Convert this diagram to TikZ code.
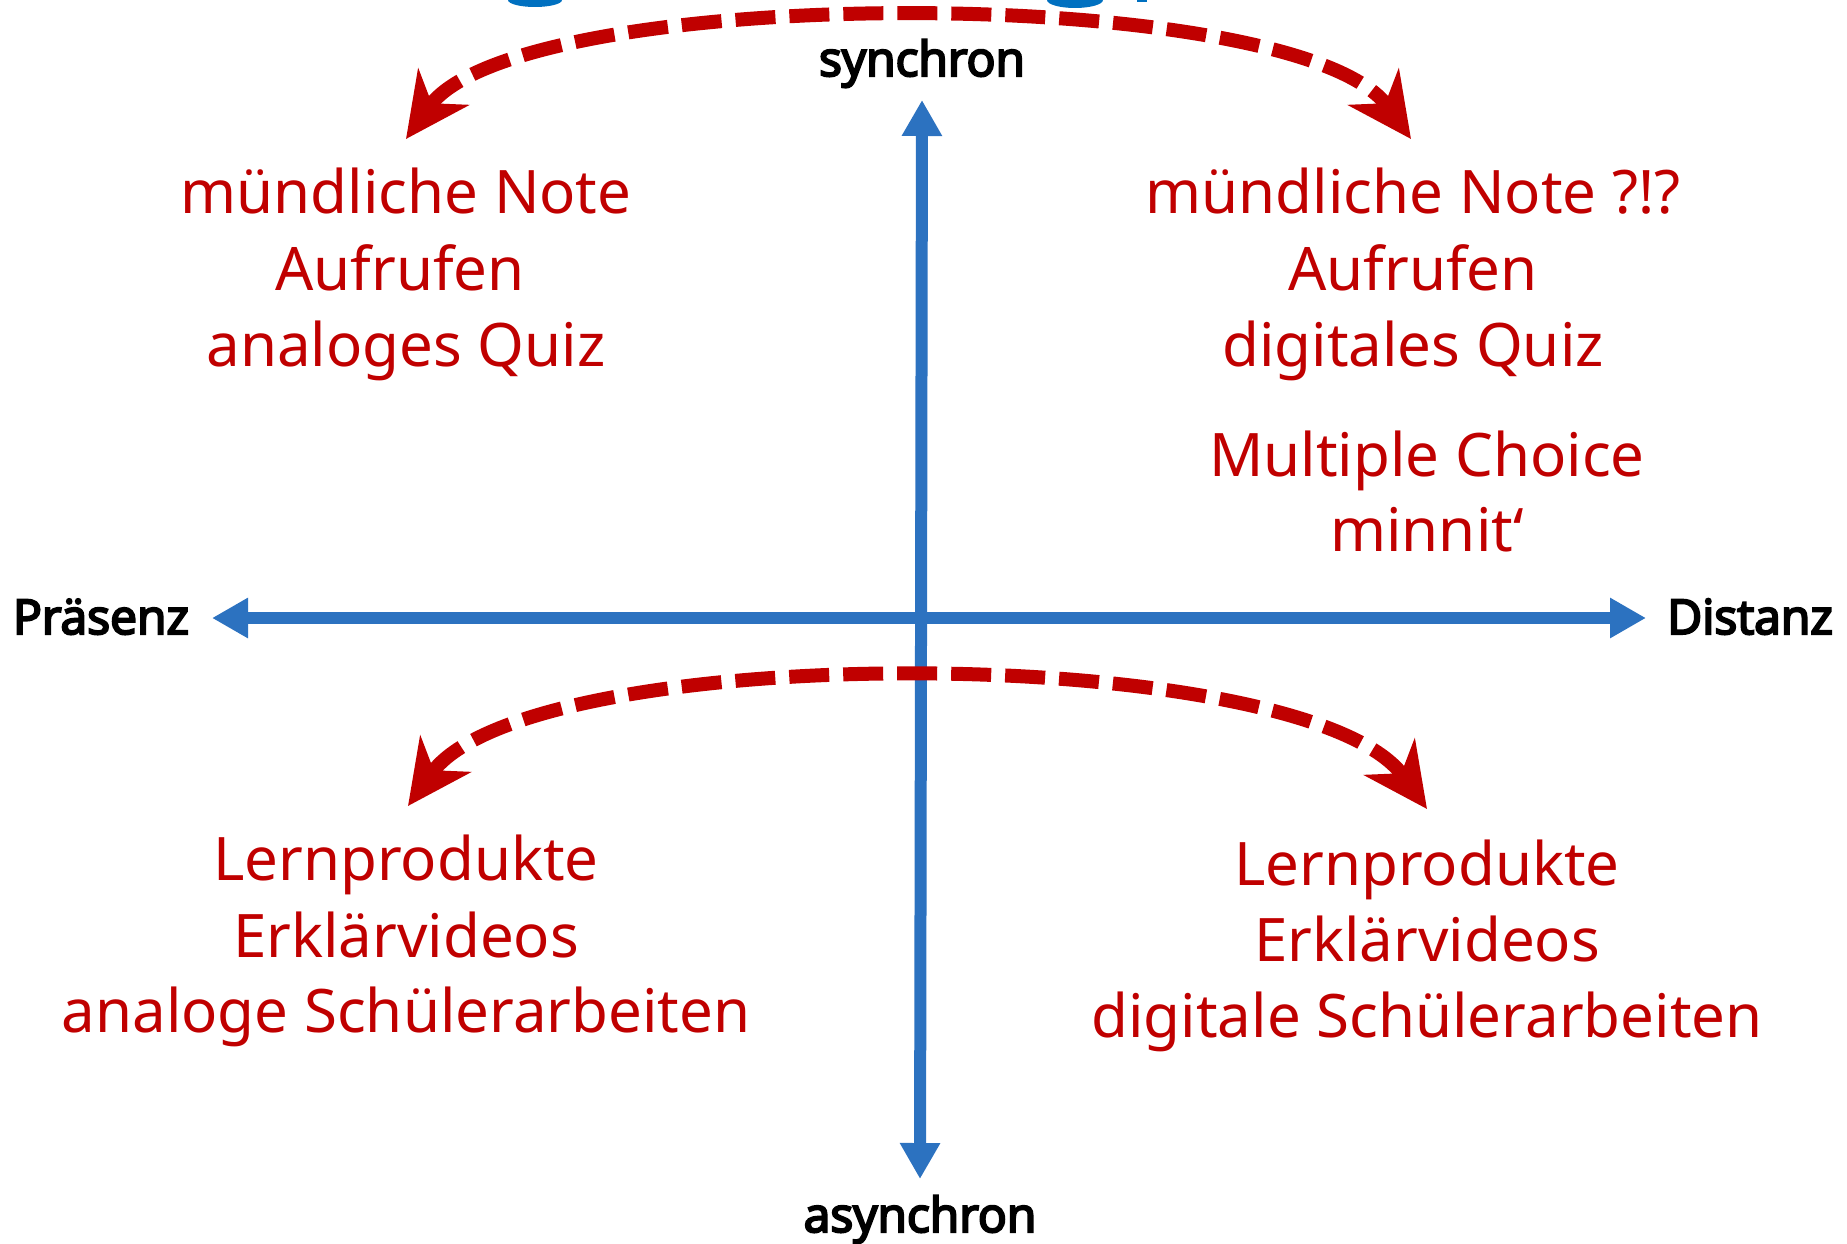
\documentclass[tikz,border=0pt]{standalone}
\usepackage{fontspec}
\setmainfont{Noto Sans}
\newfontfamily\labfont{Open Sans}[FakeBold=4.5]
\usetikzlibrary{arrows.meta}
\definecolor{axisblue}{RGB}{44,114,192}
\definecolor{titleblue}{RGB}{0,112,192}
\definecolor{darkred}{RGB}{192,0,0}
\tikzset{
  axis/.style={draw=axisblue, line width=12pt, {Triangle[length=36pt,width=38pt]}-{Triangle[length=36pt,width=38pt]}},
  swing/.style={draw=darkred, line width=14pt, dash pattern=on 40pt off 14pt,
    {Stealth[length=64pt,width=62pt,inset=20pt]}-{Stealth[length=64pt,width=62pt,inset=20pt]}},
  redtxt/.style={text=darkred, font=\fontsize{60}{76}\selectfont, anchor=base, inner sep=0pt},
  axlabel/.style={text=black, font=\labfont\fontsize{48}{58}\selectfont, anchor=base, inner sep=0pt}
}
\begin{document}
\begin{tikzpicture}[x=1pt,y=-1pt]
\useasboundingbox (0,0) rectangle (1847,1244);
\clip (0,0) rectangle (1847,1244);
% fragments of a cut-off title
\fill[titleblue] (535,0) ellipse [x radius=27, y radius=7];
\fill[titleblue] (1075,0) ellipse [x radius=28, y radius=8];
\fill[titleblue] (1137,0) rectangle (1147,2);

% axes
\coordinate (top) at (922,100);
\coordinate (bot) at (920,1179);
\coordinate (lft) at (212,618);
\coordinate (rgt) at (1646,618);
\draw[axis] (lft) -- (rgt);
\draw[axis] (bot) -- (top);

% axis labels
\node[axlabel] (syn) at (922,76) {synchron};
\node[axlabel] (asyn) at (920,1232) {asynchron};
\node[axlabel] (pra) at (101,634) {Präsenz};
\node[axlabel] (dis) at (1750,634) {Distanz};

% red swing arrows
\coordinate (tA) at (406,139);
\coordinate (tB) at (1411,139);
\coordinate (bA) at (408,806);
\coordinate (bB) at (1427,809);
\draw[swing] (tA) .. controls (519,-18) and (1298,-18) .. (tB);
\draw[swing] (bA) .. controls (529,638) and (1306,641) .. (bB);

% top-left
\node[redtxt] (tl1) at (406,213) {mündliche Note};
\node[redtxt] (tl2) at (400,290) {Aufrufen};
\node[redtxt] (tl3) at (406,366) {analoges Quiz};
% top-right
\node[redtxt] (tr1) at (1413,213) {mündliche Note ?!?};
\node[redtxt] (tr2) at (1413,290) {Aufrufen};
\node[redtxt] (tr3) at (1413,366) {digitales Quiz};
\node[redtxt] (tr4) at (1427,476) {Multiple Choice};
\node[redtxt] (tr5) at (1427,551) {minnit‘};
% bottom-left
\node[redtxt] (bl1) at (406,880) {Lernprodukte};
\node[redtxt] (bl2) at (406,957) {Erklärvideos};
\node[redtxt] (bl3) at (406,1032) {analoge Schülerarbeiten};
% bottom-right
\node[redtxt] (br1) at (1427,885) {Lernprodukte};
\node[redtxt] (br2) at (1427,961) {Erklärvideos};
\node[redtxt] (br3) at (1427,1037) {digitale Schülerarbeiten};
\end{tikzpicture}
\end{document}
